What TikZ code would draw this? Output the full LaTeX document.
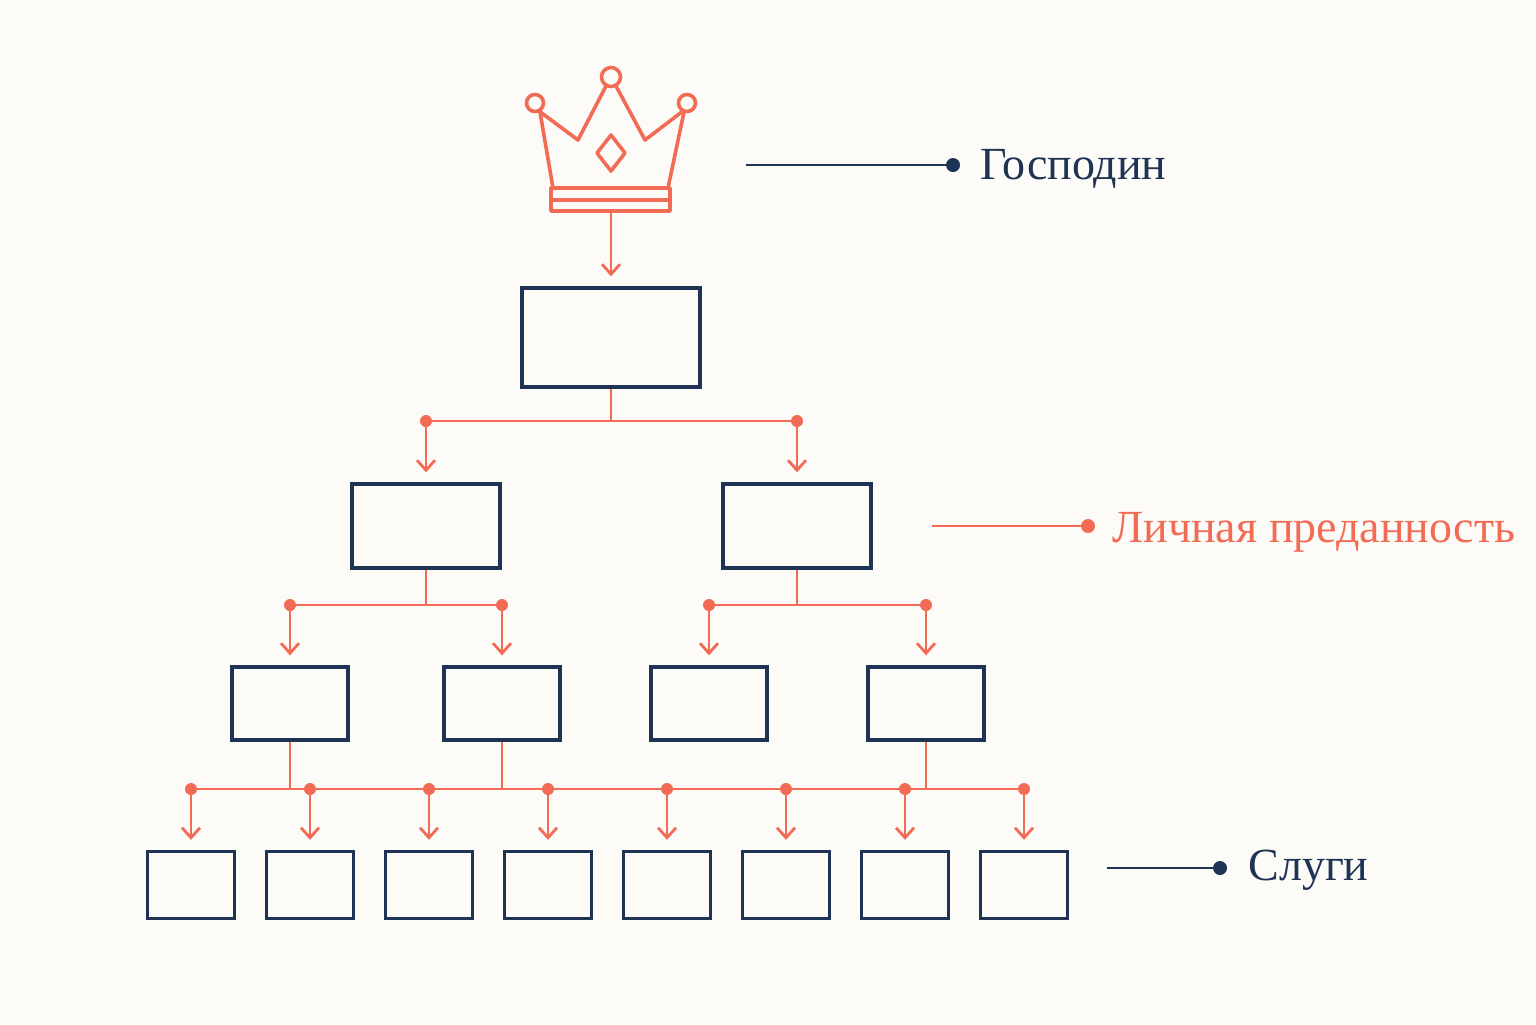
\documentclass[tikz,border=0pt]{standalone}
\usepackage{fontspec}
\setmainfont{Liberation Serif}
\usetikzlibrary{arrows.meta, positioning}
\definecolor{navy}{HTML}{1F3354}
\definecolor{coral}{HTML}{F26B55}
\definecolor{paper}{HTML}{FDFBF7}
\begin{document}
\begin{tikzpicture}[
    x=0.5pt, y=-0.5pt,
    box/.style={rectangle, draw=navy, line width=1.7pt, inner sep=0pt},
    link/.style={coral, line width=1.4pt},
    arrow/.style={link, -{Straight Barb[length=5pt, width=9pt]}},
    dot/.style={circle, fill=coral, inner sep=0pt, minimum size=6pt},
    tag/.style={font=\fontsize{23}{26}\selectfont, anchor=west, inner sep=0pt}
]
\fill[paper] (0,0) rectangle (1536,1024);

% crown
\begin{scope}[coral, line width=1.8pt, line join=round]
\draw (611,77) circle (9.5) (535,103) circle (8.5) (687,103) circle (8.5);
\draw (540,112) -- (553,188) (684,112) -- (668,188);
\draw (539,111) -- (578,140) -- (606,86) (616,86) -- (645,140) -- (683,111);
\draw (551,188) rectangle (670,211) (551,200) -- (670,200);
\draw (611,135) -- (625,153) -- (611,171) -- (597,153) -- cycle;
\end{scope}
\coordinate (crown) at (611,211);

% boxes
\node[box, minimum width=89pt, minimum height=49.5pt] (top) at (611,337.5) {};
\node[box, minimum width=74pt, minimum height=42pt] (mL) at (426,526) {};
\node[box, minimum width=74pt, minimum height=42pt] (mR) at (797,526) {};
\foreach \n/\x in {a/290, b/502, c/709, d/926}
    \node[box, minimum width=58pt, minimum height=36.5pt] (s\n) at (\x,703.5) {};
\foreach \i/\x in {1/191, 2/310, 3/429, 4/548, 5/667, 6/786, 7/905, 8/1024}
    \node[box, minimum width=43.5pt, minimum height=33.5pt] (w\i) at (\x,885) {};

% connectors
\draw[arrow] (crown) -- ([yshift=5pt]top.north);
\draw[link] (top.south) -- (611,421) (427,421) -- (797,421);
\foreach \t in {mL, mR} {
    \node[dot] at (\t |- 0,421) {};
    \draw[arrow] (\t |- 0,421) -- ([yshift=5pt]\t.north);
}
\draw[link] (mL.south) -- (426,605) (290,605) -- (503,605);
\draw[link] (mR.south) -- (797,605) (709,605) -- (926,605);
\foreach \t in {sa, sb, sc, sd} {
    \node[dot] at (\t |- 0,605) {};
    \draw[arrow] (\t |- 0,605) -- ([yshift=5pt]\t.north);
}
\draw[link] (sa.south) -- (290,789) (sb.south) -- (502,789) (sd.south) -- (926,789)
    (191,789) -- (1024,789);
\foreach \i in {1,...,8} {
    \node[dot] at (w\i |- 0,789) {};
    \draw[arrow] (w\i |- 0,789) -- ([yshift=5pt]w\i.north);
}

% labels
\node[tag, text=navy] (lord) at (980,169) {Господин};
\draw[navy, line width=1.4pt] (746,165) -- (953,165);
\fill[navy] (953,165) circle (3.5pt);
\node[tag, text=coral] (loyal) at (1112,532) {Личная преданность};
\draw[coral, line width=1.4pt] (932,526) -- (1088,526);
\fill[coral] (1088,526) circle (3.5pt);
\node[tag, text=navy] (serv) at (1248,870) {Слуги};
\draw[navy, line width=1.4pt] (1107,868) -- (1220,868);
\fill[navy] (1220,868) circle (3.5pt);
\end{tikzpicture}
\end{document}
